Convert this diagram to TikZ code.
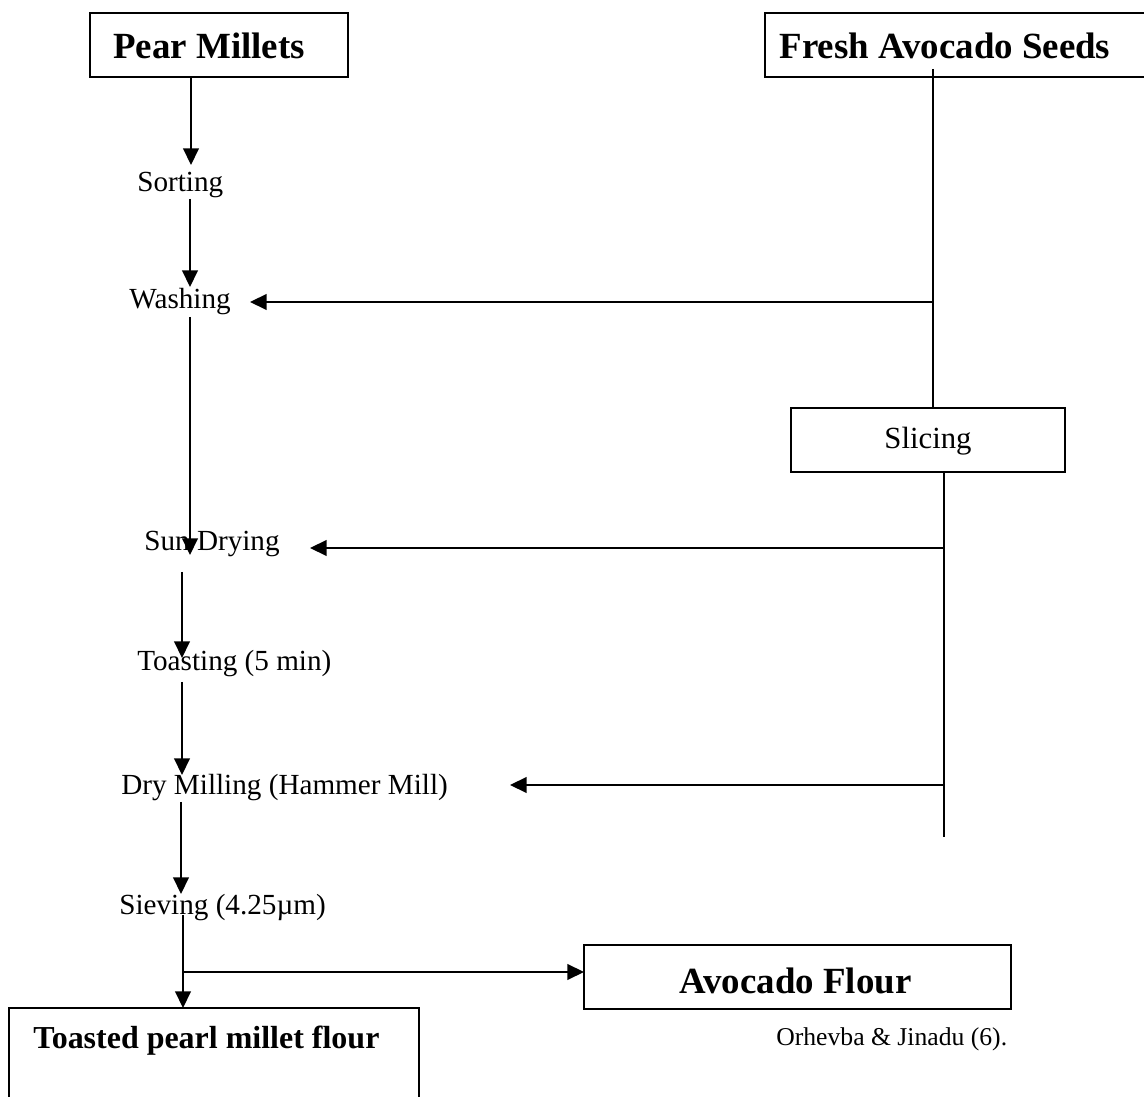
\documentclass[tikz,border=0pt]{standalone}
\usepackage{fontspec}
\setmainfont{Liberation Serif}
\usetikzlibrary{arrows.meta}
\begin{document}
\begin{tikzpicture}[x=0.02cm,y=-0.02cm,
  lw/.style={line width=0.9pt},
  arr/.style={lw,-{Triangle[length=9.5pt,width=9pt]}},
  lbl/.style={anchor=west,inner sep=0pt,font=\fontsize{16.6}{19}\selectfont},
  title/.style={inner sep=0pt,font=\fontsize{21}{25}\selectfont\bfseries},
  boxx/.style={draw,lw,inner sep=0pt}]
\useasboundingbox (0,0) rectangle (1144,1097);
\clip (0,0) rectangle (1144,1097);

% boxes
\node[boxx,minimum width=5.16cm,minimum height=1.28cm] (pear) at (219,45) {};
\node[title] (peart) at (209,46) {Pear Millets};
\node[boxx,minimum width=7.9cm,minimum height=1.28cm] (avbox) at (962.5,45) {};
\node[title] (avt) at (945,46) {Fresh Avocado Seeds};
\node[boxx,minimum width=5.48cm,minimum height=1.28cm] (slice) at (928,440) {};
\node[inner sep=0pt,font=\fontsize{17.5}{21}\selectfont] (slicet) at (928,441) {Slicing};
\node[boxx,minimum width=8.54cm,minimum height=1.28cm] (avf) at (797.5,977) {};
\node[title] (avft) at (795.5,981) {Avocado Flour};
\node[lbl,font=\fontsize{14.6}{18}\selectfont] (cite) at (776,1039) {Orhevba \& Jinadu (6).};
\node[boxx,minimum width=8.2cm,minimum height=2.24cm] (tbox) at (214,1064) {};
\node[anchor=west,inner sep=0pt,font=\fontsize{18.2}{22}\selectfont\bfseries] (tboxt) at (33,1041) {Toasted pearl millet flour};

% process labels
\node[lbl] (sort) at (137,185) {Sorting};
\node[lbl] (wash) at (129,302) {Washing};
\node[lbl] (sun) at (144,544) {Sun Drying};
\node[lbl] (toast) at (137,664) {Toasting (5 min)};
\node[lbl] (dry) at (121,788) {Dry Milling (Hammer Mill)};
\node[lbl] (sieve) at (119,908) {Sieving (4.25µm)};

% connector points
\coordinate (a1) at (191,77);  \coordinate (a2) at (191,165);
\coordinate (b1) at (190,199); \coordinate (b2) at (190,287);
\coordinate (c1) at (190,317); \coordinate (c2) at (190,555);
\coordinate (d1) at (182,572); \coordinate (d2) at (182,658);
\coordinate (e1) at (182,682); \coordinate (e2) at (182,775);
\coordinate (f1) at (181,802); \coordinate (f2) at (181,894);
\coordinate (g1) at (183,915); \coordinate (g2) at (183,1008);
\coordinate (gj) at (183,972);  \coordinate (g3) at (584,972);
\coordinate (r1) at (933,69);  \coordinate (r2) at (933,408);
\coordinate (rw) at (933,302); \coordinate (wt) at (250,302);
\coordinate (s1) at (944,472); \coordinate (s2) at (944,837);
\coordinate (ss) at (944,548); \coordinate (st) at (310,548);
\coordinate (sd) at (944,785); \coordinate (dt) at (510,785);

\draw[arr] (a1) -- (a2);
\draw[arr] (b1) -- (b2);
\draw[arr] (c1) -- (c2);
\draw[arr] (d1) -- (d2);
\draw[arr] (e1) -- (e2);
\draw[arr] (f1) -- (f2);
\draw[arr] (g1) -- (g2);
\draw[arr] (gj) -- (g3);
\draw[lw] (r1) -- (r2);
\draw[arr] (rw) -- (wt);
\draw[lw] (s1) -- (s2);
\draw[arr] (ss) -- (st);
\draw[arr] (sd) -- (dt);
\end{tikzpicture}
\end{document}
